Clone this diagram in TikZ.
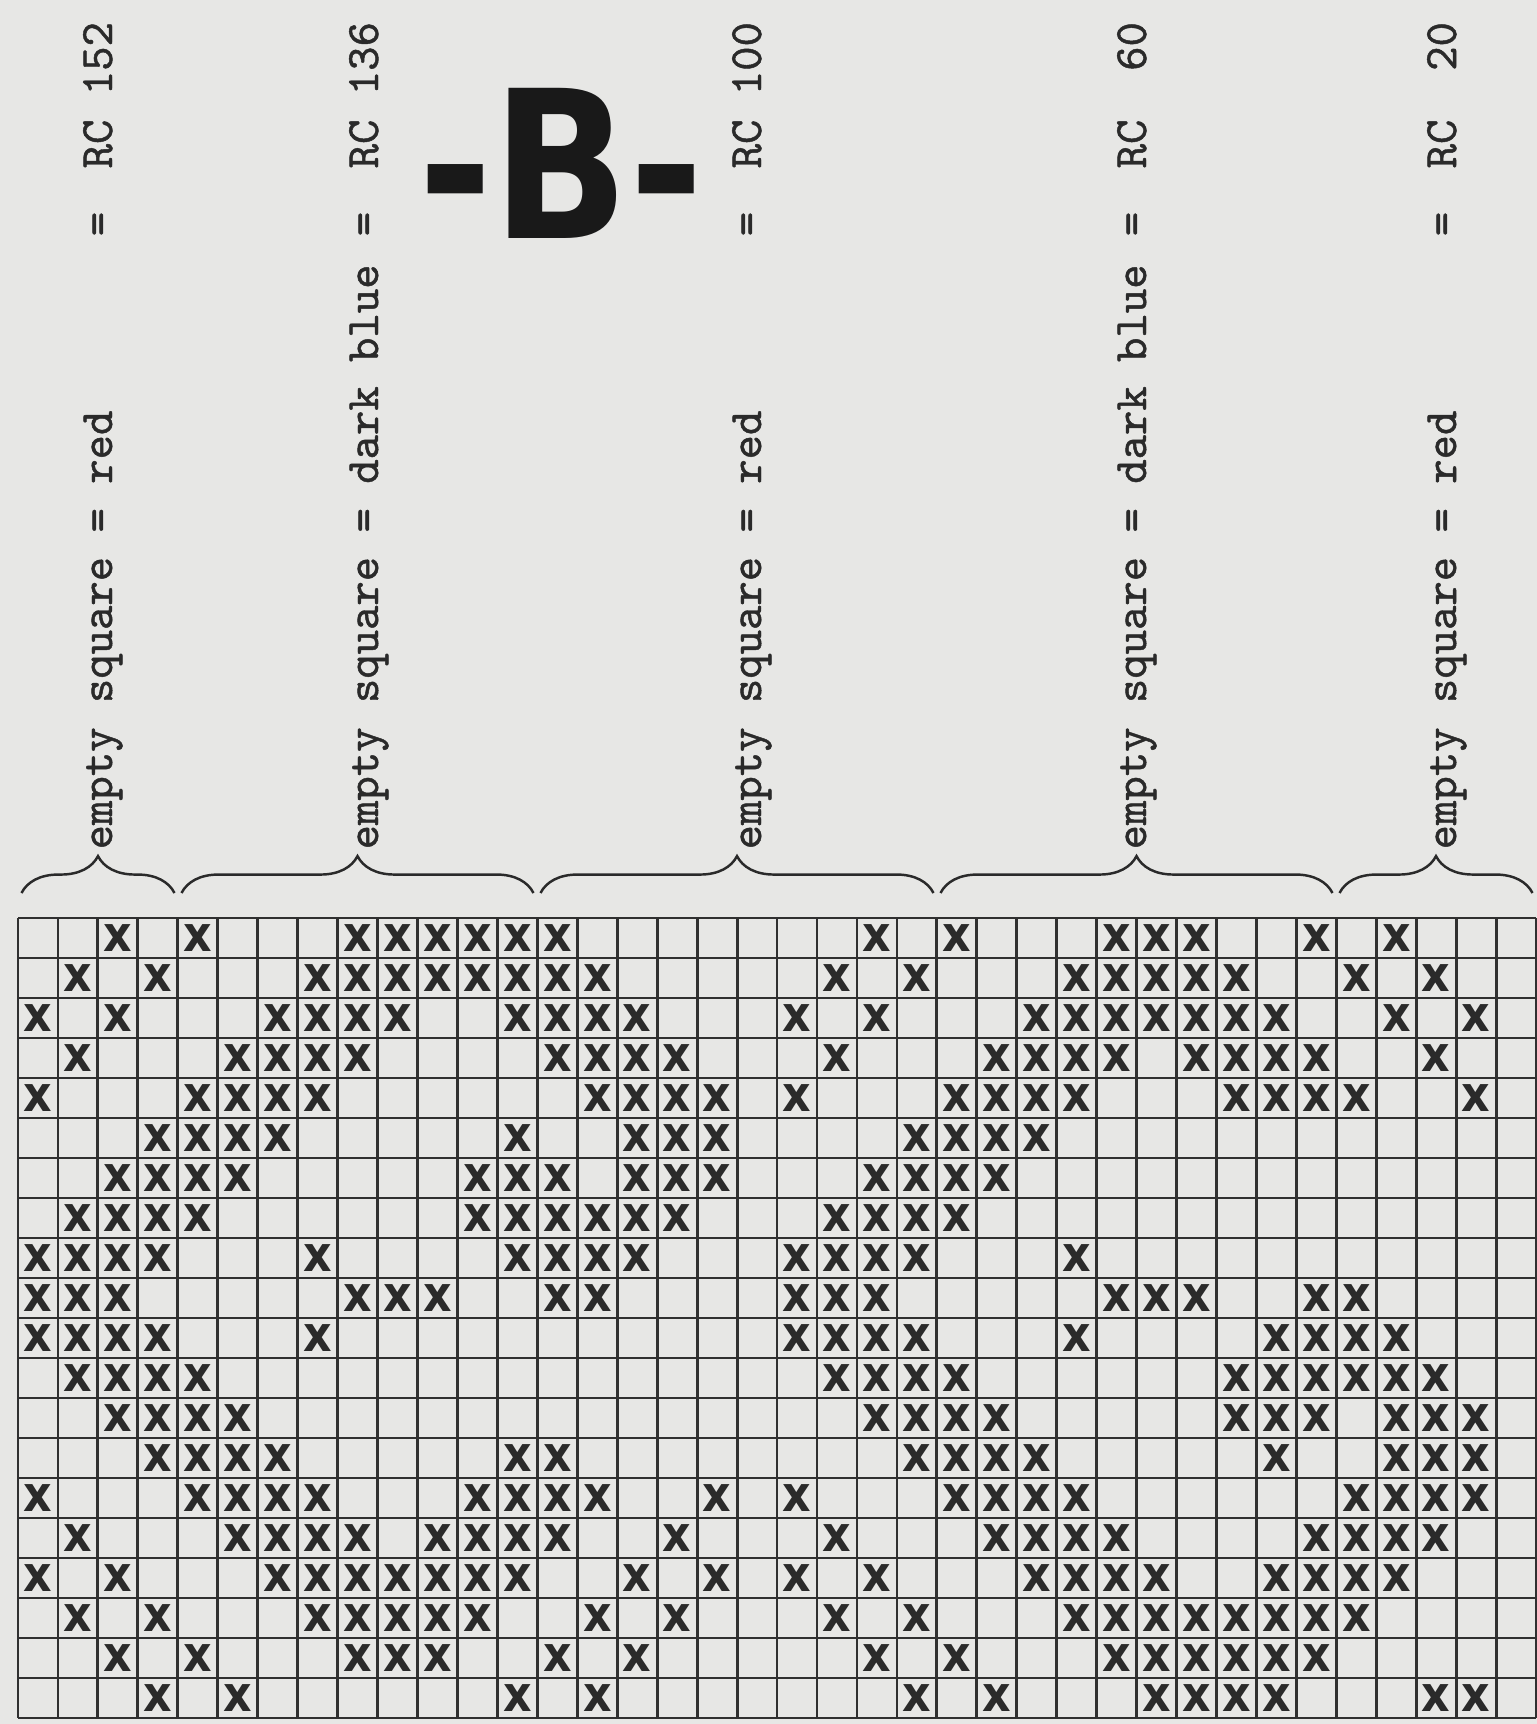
\documentclass[tikz,border=0pt]{standalone}
\usepackage{fontspec}
\usepackage{xcolor}
\usepackage{tikz}
\usetikzlibrary{decorations.pathreplacing}

\newfontfamily\typefont{lmmono10-regular.otf}[FakeBold=1]
\newfontfamily\markerfont{DejaVu Sans}

\definecolor{paper}{RGB}{231,231,229}
\definecolor{ink}{RGB}{42,42,42}
\definecolor{gridink}{RGB}{48,48,48}

\begin{document}
\begin{tikzpicture}[
  x=0.01cm, y=-0.01cm,
  gridline/.style={draw=gridink, line width=0.8pt},
  xmark/.style={inner sep=0pt, xscale=0.9, text=ink, font=\markerfont\bfseries\fontsize{14}{14}\selectfont},
  keynote/.style={rotate=90, anchor=base west, inner sep=0pt, text=ink, font=\typefont\fontsize{13.2}{14}\selectfont},
  eqsign/.style={keynote, anchor=base},
  rclabel/.style={keynote},
  bracket/.style={draw=ink, line width=0.7pt, decorate, decoration={brace, amplitude=10.5pt}}
]
  \useasboundingbox (0,0) rectangle (1537,1724);
  \fill[paper] (0,0) rectangle (1537,1724);

  % 1. Grid (38 columns, 20 rows)
  \foreach \i in {0,...,38}
    \draw[gridline] (18+39.95*\i,918) -- (18+39.95*\i,1718);
  \foreach \j in {0,...,20}
    \draw[gridline] (18,918+40*\j) -- (1536,918+40*\j);

  % 2. Crosses, row by row
  \foreach \r/\cl in {
      0/{2,4,8,9,10,11,12,13,21,23,27,28,29,32,34},
      1/{1,3,7,8,9,10,11,12,13,14,20,22,26,27,28,29,30,33,35},
      2/{0,2,6,7,8,9,12,13,14,15,19,21,25,26,27,28,29,30,31,34,36},
      3/{1,5,6,7,8,13,14,15,16,20,24,25,26,27,29,30,31,32,35},
      4/{0,4,5,6,7,14,15,16,17,19,23,24,25,26,30,31,32,33,36},
      5/{3,4,5,6,12,15,16,17,22,23,24,25},
      6/{2,3,4,5,11,12,13,15,16,17,21,22,23,24},
      7/{1,2,3,4,11,12,13,14,15,16,20,21,22,23},
      8/{0,1,2,3,7,12,13,14,15,19,20,21,22,26},
      9/{0,1,2,8,9,10,13,14,19,20,21,27,28,29,32,33},
      10/{0,1,2,3,7,19,20,21,22,26,31,32,33,34},
      11/{1,2,3,4,20,21,22,23,30,31,32,33,34,35},
      12/{2,3,4,5,21,22,23,24,30,31,32,34,35,36},
      13/{3,4,5,6,12,13,22,23,24,25,31,34,35,36},
      14/{0,4,5,6,7,11,12,13,14,17,19,23,24,25,26,33,34,35,36},
      15/{1,5,6,7,8,10,11,12,13,16,20,24,25,26,27,32,33,34,35},
      16/{0,2,6,7,8,9,10,11,12,15,17,19,21,25,26,27,28,31,32,33,34},
      17/{1,3,7,8,9,10,11,14,16,20,22,26,27,28,29,30,31,32,33},
      18/{2,4,8,9,10,13,15,21,23,27,28,29,30,31,32},
      19/{3,5,12,14,22,24,28,29,30,31,35,36}}
    \foreach \c in \cl
      \node[xmark] (m\r-\c) at (38+39.95*\c, 938+40*\r) {x};

  % 3. Braces over the column groups
  \coordinate (b0) at (18,893);
  \coordinate (b1) at (178,893);
  \coordinate (b2) at (537,893);
  \coordinate (b3) at (937,893);
  \coordinate (b4) at (1336,893);
  \coordinate (b5) at (1536,893);
  \draw[bracket] ([xshift=1pt]b0) -- ([xshift=-1pt]b1);
  \draw[bracket] ([xshift=1pt]b1) -- ([xshift=-1pt]b2);
  \draw[bracket] ([xshift=1pt]b2) -- ([xshift=-1pt]b3);
  \draw[bracket] ([xshift=1pt]b3) -- ([xshift=-1pt]b4);
  \draw[bracket] ([xshift=1pt]b4) -- ([xshift=-1pt]b5);

  % 4. Typed keys
  \node[keynote] (k1) at (112,850) {empty square = red};
  \node[eqsign] (q1) at (112,224) {=};
  \node[rclabel] (rc1) at (112,169) {RC 152};

  \node[keynote] (k2) at (378,850) {empty square = dark blue};
  \node[eqsign] (q2) at (378,224) {=};
  \node[rclabel] (rc2) at (378,169) {RC 136};

  \node[keynote] (k3) at (761,850) {empty square = red};
  \node[eqsign] (q3) at (761,224) {=};
  \node[rclabel] (rc3) at (761,169) {RC 100};

  \node[keynote] (k4) at (1146,850) {empty square = dark blue};
  \node[eqsign] (q4) at (1146,224) {=};
  \node[rclabel] (rc4) at (1146,169) {RC\ \ 60};

  \node[keynote] (k5) at (1456,850) {empty square = red};
  \node[eqsign] (q5) at (1456,224) {=};
  \node[rclabel] (rc5) at (1456,169) {RC\ \ 20};

  % 5. Hand-written sheet letter
  \node[anchor=base, inner sep=0pt, xscale=0.87, text=black!90,
        font=\markerfont\bfseries\fontsize{58.6}{60}\selectfont] (sheet) at (561,238) {-B-};

\end{tikzpicture}
\end{document}
